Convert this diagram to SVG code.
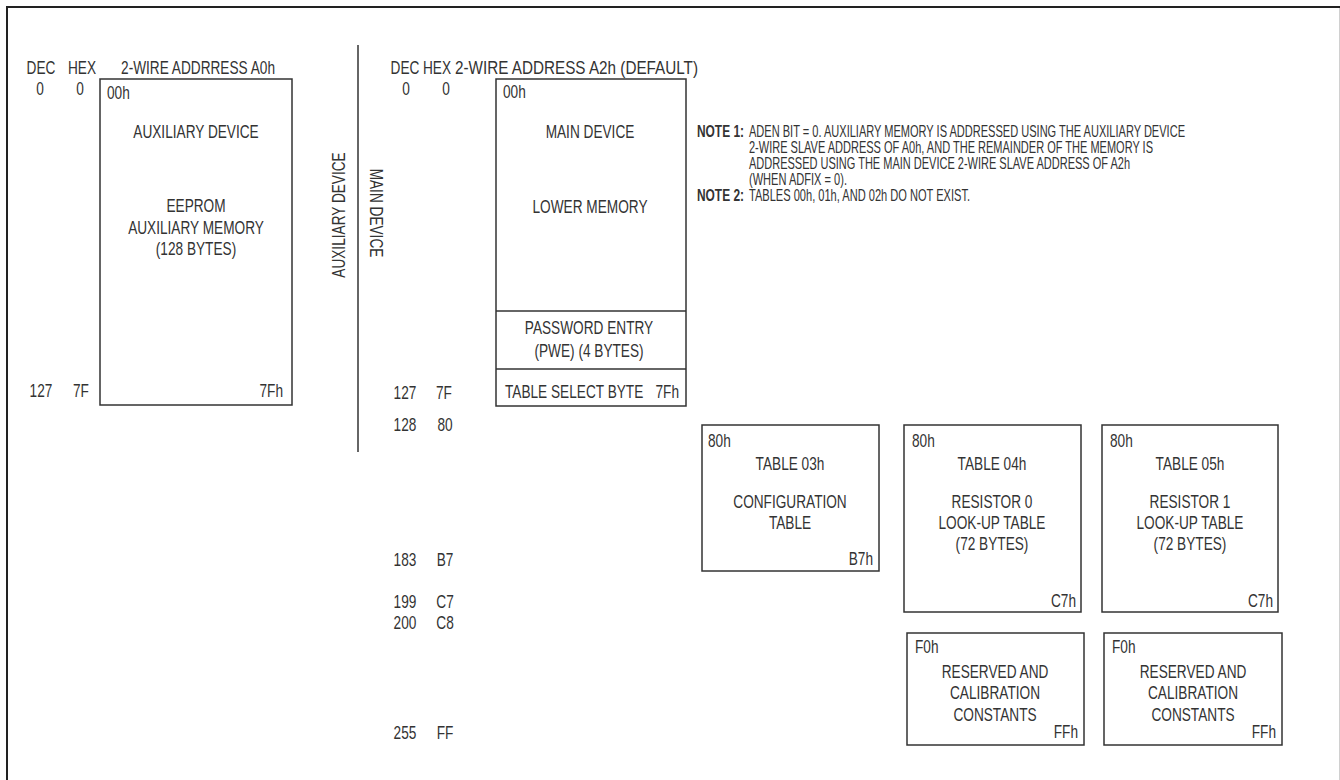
<svg xmlns="http://www.w3.org/2000/svg" width="1340" height="780" viewBox="0 0 1340 780">
<style>
text{font-family:"Liberation Sans",Arial,sans-serif;font-size:17.5px;fill:#333}
.m{text-anchor:middle}
.e{text-anchor:end}
.n{font-size:17px}
.b{font-weight:bold}
.box{fill:#fff;stroke:#333;stroke-width:1.5}
.ln{stroke:#333;stroke-width:1.5;fill:none}
</style>
<rect x="0" y="0" width="1340" height="780" fill="#fff"/>
<path d="M7,780 V7 H1340" fill="none" stroke="#222" stroke-width="2"/>
<line x1="1339.5" y1="8" x2="1339.5" y2="780" stroke="#d0d0d0" stroke-width="1"/>
<g id="axis-left">
<text class="m" transform="translate(41,74) scale(.78,1)">DEC</text>
<text class="m" transform="translate(82,74) scale(.78,1)">HEX</text>
<text class="m" transform="translate(198,74) scale(.78,1)">2-WIRE ADDRRESS A0h</text>
<text class="m" transform="translate(40,95) scale(.78,1)">0</text>
<text class="m" transform="translate(80,95) scale(.78,1)">0</text>
<text class="m" transform="translate(41,397) scale(.78,1)">127</text>
<text class="m" transform="translate(81,397) scale(.78,1)">7F</text>
</g>
<g id="aux-memory">
<rect class="box" x="100" y="79" width="192" height="326"/>
<text transform="translate(107,99) scale(.78,1)">00h</text>
<text class="m" transform="translate(196,138) scale(.78,1)">AUXILIARY DEVICE</text>
<text class="m" transform="translate(196,212) scale(.78,1)">EEPROM</text>
<text class="m" transform="translate(196,234) scale(.78,1)">AUXILIARY MEMORY</text>
<text class="m" transform="translate(196,255) scale(.78,1)">(128 BYTES)</text>
<text class="e" transform="translate(283,397) scale(.78,1)">7Fh</text>
</g>
<g id="connectors">
<line class="ln" x1="358" y1="45" x2="358" y2="452"/>
</g>
<g id="divider-labels">
<text class="m" transform="translate(345,215) rotate(-90) scale(.78,1)">AUXILIARY DEVICE</text>
<text class="m" transform="translate(370,213) rotate(90) scale(.78,1)">MAIN DEVICE</text>
</g>
<g id="axis-main">
<text class="m" transform="translate(405,74) scale(.78,1)">DEC</text>
<text class="m" transform="translate(437,74) scale(.78,1)">HEX</text>
<text x="455" y="74" textLength="243" lengthAdjust="spacingAndGlyphs">2-WIRE ADDRESS A2h (DEFAULT)</text>
<text class="m" transform="translate(406,95) scale(.78,1)">0</text>
<text class="m" transform="translate(446,95) scale(.78,1)">0</text>
<text class="m" transform="translate(405,399) scale(.78,1)">127</text>
<text class="m" transform="translate(444,399) scale(.78,1)">7F</text>
<text class="m" transform="translate(405,431) scale(.78,1)">128</text>
<text class="m" transform="translate(445,431) scale(.78,1)">80</text>
<text class="m" transform="translate(405,566) scale(.78,1)">183</text>
<text class="m" transform="translate(445,566) scale(.78,1)">B7</text>
<text class="m" transform="translate(405,608) scale(.78,1)">199</text>
<text class="m" transform="translate(445,608) scale(.78,1)">C7</text>
<text class="m" transform="translate(405,629) scale(.78,1)">200</text>
<text class="m" transform="translate(445,629) scale(.78,1)">C8</text>
<text class="m" transform="translate(405,739) scale(.78,1)">255</text>
<text class="m" transform="translate(445,739) scale(.78,1)">FF</text>
</g>
<g id="main-memory">
<rect class="box" x="496" y="79" width="190" height="327"/>
<line class="ln" x1="496" y1="311" x2="686" y2="311"/>
<line class="ln" x1="496" y1="369" x2="686" y2="369"/>
<text transform="translate(503,98) scale(.78,1)">00h</text>
<text class="m" transform="translate(590,138) scale(.78,1)">MAIN DEVICE</text>
<text class="m" transform="translate(590,213) scale(.78,1)">LOWER MEMORY</text>
<text class="m" transform="translate(589,334) scale(.78,1)">PASSWORD ENTRY</text>
<text class="m" transform="translate(589,357) scale(.78,1)">(PWE) (4 BYTES)</text>
<text transform="translate(505,398) scale(.78,1)">TABLE SELECT BYTE</text>
<text class="e" transform="translate(679,398) scale(.78,1)">7Fh</text>
</g>
<g id="notes">
<text class="n b" x="697" y="137" textLength="47" lengthAdjust="spacingAndGlyphs">NOTE 1:</text>
<text class="n" x="749" y="137" textLength="436" lengthAdjust="spacingAndGlyphs">ADEN BIT = 0. AUXILIARY MEMORY IS ADDRESSED USING THE AUXILIARY DEVICE</text>
<text class="n" x="749" y="153" textLength="404" lengthAdjust="spacingAndGlyphs">2-WIRE SLAVE ADDRESS OF A0h, AND THE REMAINDER OF THE MEMORY IS</text>
<text class="n" x="749" y="169" textLength="381" lengthAdjust="spacingAndGlyphs">ADDRESSED USING THE MAIN DEVICE 2-WIRE SLAVE ADDRESS OF A2h</text>
<text class="n" x="749" y="185" textLength="98" lengthAdjust="spacingAndGlyphs">(WHEN ADFIX = 0).</text>
<text class="n b" x="697" y="201" textLength="47" lengthAdjust="spacingAndGlyphs">NOTE 2:</text>
<text class="n" x="749" y="201" textLength="221" lengthAdjust="spacingAndGlyphs">TABLES 00h, 01h, AND 02h DO NOT EXIST.</text>
</g>
<g id="table-03h">
<rect class="box" x="702" y="425" width="177" height="146"/>
<text transform="translate(708,447) scale(.78,1)">80h</text>
<text class="m" transform="translate(790,470) scale(.78,1)">TABLE 03h</text>
<text class="m" transform="translate(790,508) scale(.78,1)">CONFIGURATION</text>
<text class="m" transform="translate(790,529) scale(.78,1)">TABLE</text>
<text class="e" transform="translate(873,565) scale(.78,1)">B7h</text>
</g>
<g id="table-04h">
<rect class="box" x="904" y="425" width="177" height="187"/>
<text transform="translate(912,447) scale(.78,1)">80h</text>
<text class="m" transform="translate(992,470) scale(.78,1)">TABLE 04h</text>
<text class="m" transform="translate(992,508) scale(.78,1)">RESISTOR 0</text>
<text class="m" transform="translate(992,529) scale(.78,1)">LOOK-UP TABLE</text>
<text class="m" transform="translate(992,550) scale(.78,1)">(72 BYTES)</text>
<text class="e" transform="translate(1076,607) scale(.78,1)">C7h</text>
</g>
<g id="table-05h">
<rect class="box" x="1102" y="425" width="176" height="187"/>
<text transform="translate(1110,447) scale(.78,1)">80h</text>
<text class="m" transform="translate(1190,470) scale(.78,1)">TABLE 05h</text>
<text class="m" transform="translate(1190,508) scale(.78,1)">RESISTOR 1</text>
<text class="m" transform="translate(1190,529) scale(.78,1)">LOOK-UP TABLE</text>
<text class="m" transform="translate(1190,550) scale(.78,1)">(72 BYTES)</text>
<text class="e" transform="translate(1273,607) scale(.78,1)">C7h</text>
</g>
<g id="reserved-04h">
<rect class="box" x="907" y="633" width="177" height="112"/>
<text transform="translate(915,653) scale(.78,1)">F0h</text>
<text class="m" transform="translate(995,678) scale(.78,1)">RESERVED AND</text>
<text class="m" transform="translate(995,699) scale(.78,1)">CALIBRATION</text>
<text class="m" transform="translate(995,721) scale(.78,1)">CONSTANTS</text>
<text class="e" transform="translate(1078,738) scale(.78,1)">FFh</text>
</g>
<g id="reserved-05h">
<rect class="box" x="1104" y="633" width="178" height="112"/>
<text transform="translate(1112,653) scale(.78,1)">F0h</text>
<text class="m" transform="translate(1193,678) scale(.78,1)">RESERVED AND</text>
<text class="m" transform="translate(1193,699) scale(.78,1)">CALIBRATION</text>
<text class="m" transform="translate(1193,721) scale(.78,1)">CONSTANTS</text>
<text class="e" transform="translate(1276,738) scale(.78,1)">FFh</text>
</g>
</svg>
